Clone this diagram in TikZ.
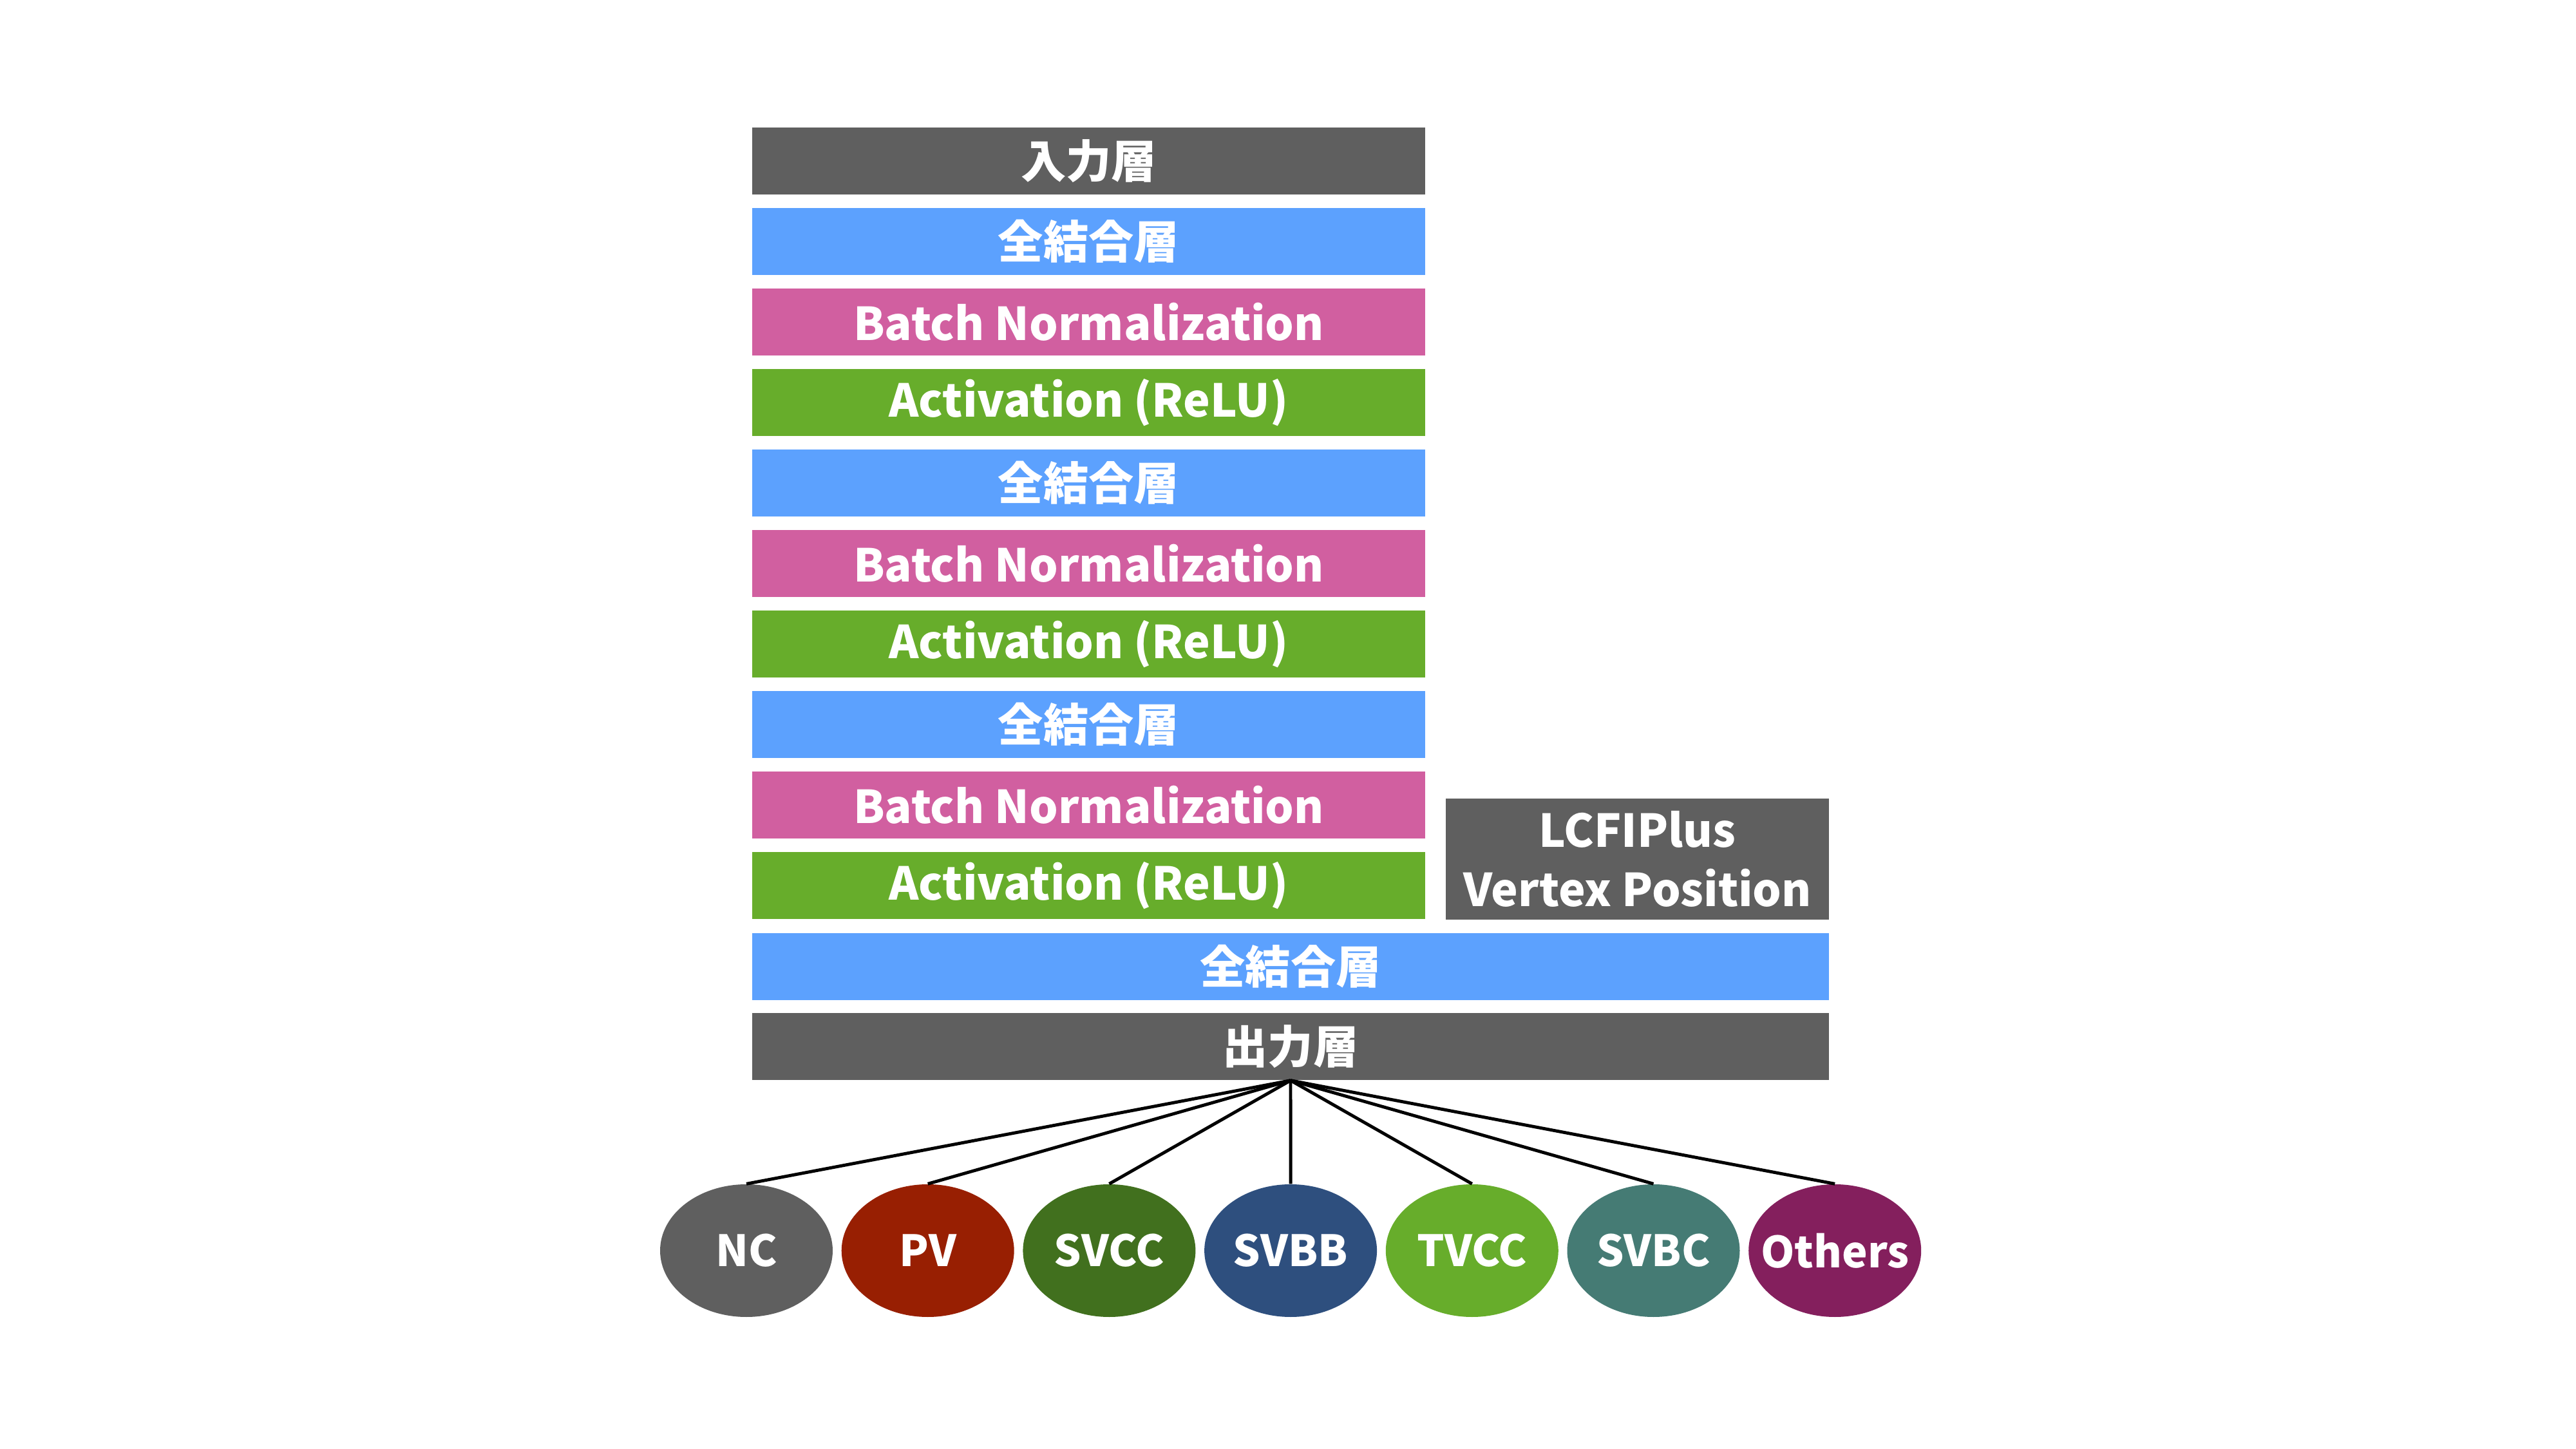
\documentclass[tikz,border=0pt]{standalone}
\usepackage{fontspec}
\setmainfont{Noto Sans CJK JP}
\usetikzlibrary{shapes.geometric}
\definecolor{laygray}{HTML}{5F5F5F}
\definecolor{fcblue}{HTML}{5CA1FE}
\definecolor{bnpink}{HTML}{D15FA0}
\definecolor{actgreen}{HTML}{67AD2B}
\definecolor{cPV}{HTML}{981F02}
\definecolor{cSVCC}{HTML}{41701E}
\definecolor{cSVBB}{HTML}{2E4F7E}
\definecolor{cSVBC}{HTML}{457B74}
\definecolor{cOthers}{HTML}{841F5D}

\begin{document}
\begin{tikzpicture}[
    layer/.style={rectangle, minimum height=1.04cm, inner sep=0pt, text=white, font=\bfseries\fontsize{20}{26}\selectfont},
    half/.style={layer, minimum width=10.45cm},
    full/.style={layer, minimum width=16.72cm},
    cls/.style={ellipse, minimum width=2.68cm, minimum height=2.06cm, inner sep=0pt, text=white, font=\bfseries\fontsize{19}{23}\selectfont}]
    \useasboundingbox (0,0) rectangle (40,-22.5);

    % layer stack
    \node[half,fill=laygray] (in) at (16.905,-2.50) {入力層};
    \foreach \i in {0,1,2} {
        \node[half,fill=fcblue] (fc\i) at (16.905,{-3.75-3.75*\i}) {全結合層};
        \node[half,fill=bnpink] (bn\i) at (16.905,{-5.00-3.75*\i}) {Batch Normalization};
        \node[half,fill=actgreen] (act\i) at (16.905,{-6.25-3.75*\i}) {Activation (ReLU)};}
    \node[layer,fill=laygray,minimum width=5.95cm,minimum height=1.88cm,align=center] (vtx) at (25.425,-13.34) {LCFIPlus\\Vertex Position};
    \node[full,fill=fcblue] (fc3) at (20.04,-15.01) {全結合層};
    \node[full,fill=laygray] (out) at (20.04,-16.25) {出力層};

    % classes
    \foreach \c/\col [count=\k from 0] in {NC/laygray,PV/cPV,SVCC/cSVCC,SVBB/cSVBB,TVCC/actgreen,SVBC/cSVBC,Others/cOthers} {
        \node[cls,fill=\col] (\c) at ({11.59+2.817*\k},-19.42) {\makebox[0pt]{\c}};
        \draw[line width=1.4pt] (out.south) -- (\c.north);}
\end{tikzpicture}
\end{document}
